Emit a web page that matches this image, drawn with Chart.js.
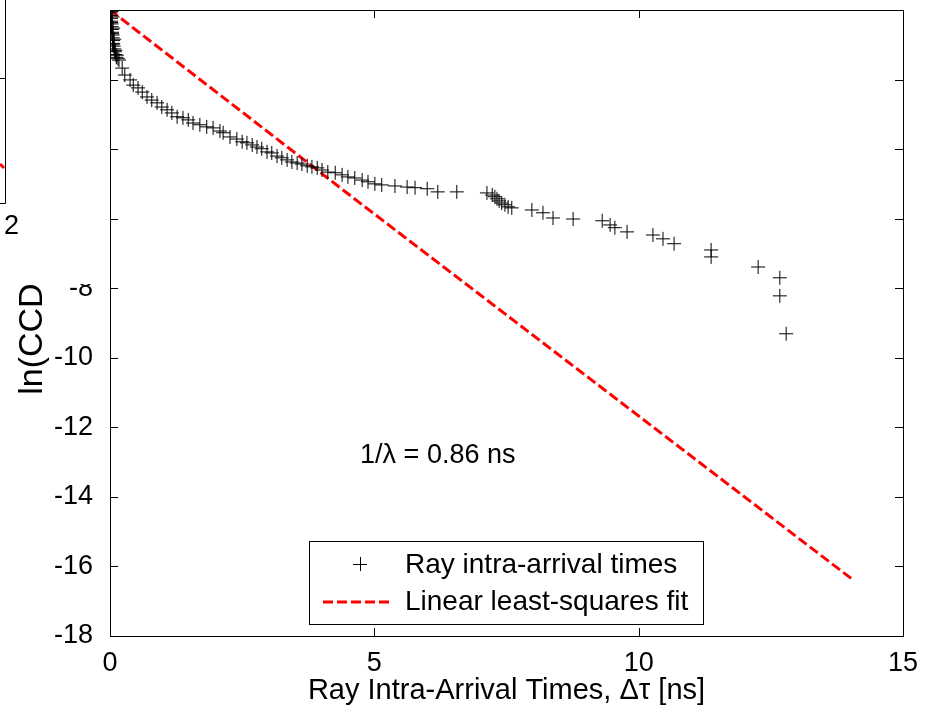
<!DOCTYPE html>
<html>
<head>
<meta charset="utf-8">
<script src="https://cdn.jsdelivr.net/npm/chart.js@4.4.1/dist/chart.umd.min.js"></script>
<style>
  body { margin: 0; background: #fff; }
  canvas { display: block; }
</style>
</head>
<body>
<canvas id="js-chart" width="937" height="712"></canvas>
<script>
// ray intra-arrival times [ns] and ln(CCDF)
var rayTimes = [
    0.00, 0.01, 0.01, 0.02, 0.02, 0.03, 0.03, 0.04, 0.04, 0.05, 0.05, 0.06, 0.06, 0.07, 0.08, 0.09, 0.10, 0.12,
    0.03, 0.05, 0.02, 0.06, 0.04, 0.08, 0.05, 0.10, 0.13, 0.15,
    0.17, 0.23, 0.28, 0.38, 0.44, 0.53, 0.61, 0.70, 0.79, 0.89, 0.98, 1.08, 1.17, 1.27, 1.38, 1.48, 1.57, 1.70,
    1.83, 1.95, 2.08, 2.14, 2.27, 2.40, 2.50, 2.59, 2.69, 2.78, 2.87, 2.97, 3.06, 3.16, 3.25, 3.35, 3.44, 3.54,
    3.63, 3.73, 3.82, 3.92, 4.01, 4.12, 4.26, 4.39, 4.50, 4.63, 4.77, 4.88, 5.01, 5.14, 5.39, 5.62, 5.77, 6.00,
    6.20, 6.56, 7.13, 7.23, 7.28, 7.32, 7.36, 7.41, 7.47, 7.53, 7.60, 7.98, 8.19, 8.38, 8.76, 9.31, 9.46, 9.55,
    9.78, 10.27, 10.46, 10.67, 11.37, 11.37, 12.26, 12.67, 12.67, 12.79
];
var rayLnCcdf = [
    0.00, -0.08, -0.16, -0.24, -0.32, -0.40, -0.48, -0.56, -0.64, -0.72, -0.80, -0.88, -0.96, -1.04, -1.12, -1.20, -1.28, -1.36,
    -0.04, -0.20, -0.36, -0.52, -0.68, -0.84, -1.00, -1.16, -1.30, -1.40,
    -1.44, -1.67, -1.87, -2.01, -2.16, -2.24, -2.36, -2.50, -2.59, -2.67, -2.79, -2.87, -2.96, -3.07, -3.10, -3.16, -3.25, -3.30,
    -3.36, -3.39, -3.48, -3.53, -3.65, -3.71, -3.79, -3.82, -3.88, -3.94, -3.99, -4.08, -4.11, -4.20, -4.25, -4.31, -4.37, -4.40,
    -4.43, -4.48, -4.51, -4.54, -4.60, -4.66, -4.68, -4.74, -4.80, -4.83, -4.89, -4.94, -5.00, -5.03, -5.06, -5.09, -5.11, -5.14,
    -5.23, -5.23, -5.26, -5.32, -5.37, -5.43, -5.49, -5.55, -5.60, -5.66, -5.69, -5.75, -5.83, -5.98, -6.01, -6.06, -6.18, -6.26,
    -6.38, -6.47, -6.58, -6.72, -6.90, -7.10, -7.39, -7.70, -8.22, -9.31
];

// least-squares fit line, end points as drawn
var fitTimes = [0, 4.6, 14.05];
var fitLnCcdf = [0, -5.4, -16.38];

var xTicks = [0, 5, 10, 15];
var yTicks = [-18, -16, -14, -12, -10, -8, -6, -4, -2, 0];

var seriesNames = ["Ray intra-arrival times", "Linear least-squares fit"];
var fitNote = "1/\u03bb = 0.86 ns";

var fontFamily = "'Liberation Sans', Arial, Helvetica, sans-serif";

function zipPoints(xs, ys) {
    return xs.map(function(x, i) { return {x: x, y: ys[i]}; });
}

/* inside ticks on all four sides, plus the box */
var boxTicks = {
    id: "boxTicks",
    afterDatasetsDraw: function(chart) {
        var ctx = chart.ctx,
            a = chart.chartArea,
            xs = chart.scales.x,
            ys = chart.scales.y,
            len = 8;
        ctx.save();
        ctx.strokeStyle = "#000";
        ctx.lineWidth = 1;
        ctx.beginPath();
        xTicks.forEach(function(v) {
            var px = Math.round(xs.getPixelForValue(v)) + 0.5;
            ctx.moveTo(px, a.bottom); ctx.lineTo(px, a.bottom - len);
            ctx.moveTo(px, a.top); ctx.lineTo(px, a.top + len);
        });
        yTicks.forEach(function(v) {
            var py = Math.round(ys.getPixelForValue(v)) + 0.5;
            ctx.moveTo(a.left, py); ctx.lineTo(a.left + len, py);
            ctx.moveTo(a.right, py); ctx.lineTo(a.right - len, py);
        });
        ctx.stroke();
        ctx.strokeRect(Math.round(a.left) + 0.5, Math.round(a.top) + 0.5,
            Math.round(a.right - a.left), Math.round(a.bottom - a.top));

        // note on the fit
        ctx.fillStyle = "#000";
        ctx.font = "27px " + fontFamily;
        ctx.textAlign = "center";
        ctx.textBaseline = "middle";
        ctx.fillText(fitNote, xs.getPixelForValue(6.2), ys.getPixelForValue(-12.8));
        ctx.restore();
    }
};

/* legend box sitting inside the axes, like the original */
var boxLegend = {
    id: "boxLegend",
    afterDatasetsDraw: function(chart) {
        var ctx = chart.ctx,
            a = chart.chartArea,
            left = a.left + 199,
            top = a.top + 531,
            w = 394,
            h = 83,
            ds = chart.data.datasets;
        ctx.save();
        ctx.fillStyle = "#fff";
        ctx.fillRect(left, top, w, h);
        ctx.strokeStyle = "#000";
        ctx.lineWidth = 1;
        ctx.strokeRect(left + 0.5, top + 0.5, w, h);

        // cross marker
        var cy1 = top + 23, cy2 = top + 61, cx = left + 51;
        ctx.beginPath();
        ctx.moveTo(cx - 7, cy1 + 0.5); ctx.lineTo(cx + 7, cy1 + 0.5);
        ctx.moveTo(cx + 0.5, cy1 - 7); ctx.lineTo(cx + 0.5, cy1 + 7);
        ctx.stroke();

        // dashed red line
        ctx.strokeStyle = ds[1].borderColor;
        ctx.lineWidth = 3;
        ctx.setLineDash(ds[1].borderDash);
        ctx.beginPath();
        ctx.moveTo(left + 14, cy2); ctx.lineTo(left + 84, cy2);
        ctx.stroke();
        ctx.setLineDash([]);

        ctx.fillStyle = "#000";
        ctx.font = "28px " + fontFamily;
        ctx.textAlign = "left";
        ctx.textBaseline = "middle";
        ctx.fillText(ds[0].label, left + 96, cy1 + 1);
        ctx.fillText(ds[1].label, left + 96, cy2);
        ctx.restore();
    }
};

/* piece of a neighbouring figure that overlaps the top-left corner */
var overlapPiece = {
    id: "overlapPiece",
    afterDraw: function(chart) {
        var ctx = chart.ctx;
        ctx.save();
        ctx.fillStyle = "#fff";
        ctx.fillRect(0, 0, 105, 284);
        ctx.strokeStyle = "#000";
        ctx.lineWidth = 1;
        ctx.beginPath();
        ctx.moveTo(5.5, 0); ctx.lineTo(5.5, 203.5); ctx.lineTo(0, 203.5);
        ctx.moveTo(0, 78.5); ctx.lineTo(5, 78.5);
        ctx.stroke();
        ctx.strokeStyle = "#ff0000";
        ctx.lineWidth = 3;
        ctx.beginPath();
        ctx.moveTo(0, 164); ctx.lineTo(4, 168);
        ctx.stroke();
        ctx.fillStyle = "#000";
        ctx.font = "27px " + fontFamily;
        ctx.textAlign = "left";
        ctx.textBaseline = "middle";
        ctx.fillText("2", 4, 227);
        ctx.restore();
    }
};

new Chart(document.getElementById("js-chart"), {
    type: "scatter",
    data: {
        datasets: [
            {
                label: seriesNames[0],
                data: zipPoints(rayTimes, rayLnCcdf),
                pointStyle: "cross",
                pointRadius: 7,
                pointBorderColor: "#000",
                pointBorderWidth: 1,
                borderColor: "#000",
                showLine: false
            },
            {
                label: seriesNames[1],
                data: zipPoints(fitTimes, fitLnCcdf),
                showLine: true,
                borderColor: "#ff0000",
                borderWidth: 3,
                borderDash: [10, 4],
                pointRadius: 0,
                fill: false
            }
        ]
    },
    options: {
        responsive: false,
        animation: false,
        devicePixelRatio: 1,
        layout: { padding: { top: 10, right: 34, left: 0, bottom: 0 } },
        plugins: {
            legend: { display: false },
            tooltip: { enabled: false }
        },
        scales: {
            x: {
                type: "linear",
                min: 0,
                max: 15,
                afterBuildTicks: function(s) { s.ticks = xTicks.map(function(v) { return {value: v}; }); },
                afterFit: function(s) { s.height = 76; s.paddingLeft = 0; s.paddingRight = 0; },
                grid: { display: false },
                border: { display: false },
                ticks: { color: "#000", padding: 3, maxRotation: 0, font: { family: fontFamily, size: 27 } },
                title: {
                    display: true,
                    text: "Ray Intra-Arrival Times, \u0394\u03c4 [ns]",
                    color: "#000",
                    padding: { top: 0, bottom: 4 },
                    font: { family: fontFamily, size: 29 }
                }
            },
            y: {
                type: "linear",
                min: -18,
                max: 0,
                afterBuildTicks: function(s) { s.ticks = yTicks.map(function(v) { return {value: v}; }); },
                afterFit: function(s) { s.width = 110; s.paddingTop = 0; s.paddingBottom = 0; },
                grid: { display: false },
                border: { display: false },
                ticks: { color: "#000", padding: 9, font: { family: fontFamily, size: 27 } },
                title: {
                    display: true,
                    text: "ln(CCDF)",
                    color: "#000",
                    padding: { top: 12, bottom: 0 },
                    font: { family: fontFamily, size: 34 }
                }
            }
        }
    },
    plugins: [boxTicks, boxLegend, overlapPiece]
});
</script>
</body>
</html>
